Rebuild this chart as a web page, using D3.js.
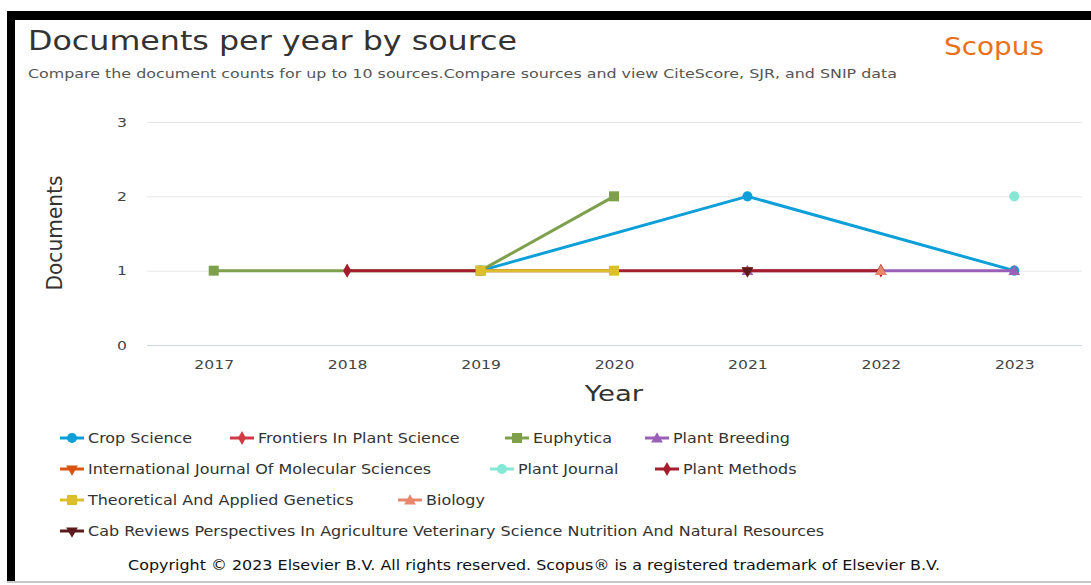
<!DOCTYPE html>
<html><head><meta charset="utf-8">
<script src="https://cdn.jsdelivr.net/npm/d3@7/dist/d3.min.js"></script>
<style>html,body{margin:0;padding:0;background:#fff;}svg{display:block;}</style>
</head><body>
<script>
const years = ["2017","2018","2019","2020","2021","2022","2023"];
const yTicks = [0,1,2,3];
const seriesNames = ["Crop Science","Frontiers In Plant Science","Euphytica","Plant Breeding","International Journal Of Molecular Sciences","Plant Journal","Plant Methods","Theoretical And Applied Genetics","Biology","Cab Reviews Perspectives In Agriculture Veterinary Science Nutrition And Natural Resources"];
const cropScience   = [null,null,1,null,2,null,1];
const frontiers     = [null,1,null,null,null,null,null];
const euphytica     = [1,null,1,2,null,null,null];
const plantBreeding = [null,null,null,null,1,1,1];
const ijms          = [null,null,null,null,1,null,null];
const plantJournal  = [null,null,null,null,null,null,2];
const plantMethods  = [null,1,null,null,null,1,null];
const tag           = [null,null,1,1,null,null,null];
const biology       = [null,null,null,null,null,1,null];
const cabReviews    = [null,null,null,null,1,null,null];
const seriesValues = [cropScience,frontiers,euphytica,plantBreeding,ijms,plantJournal,plantMethods,tag,biology,cabReviews];
const colors = ["#0d9fd8","#cf3a47","#7ea04d","#9a5fb6","#d8530f","#85e8d4","#a31d2c","#dcbf2a","#e8866b","#5d1a1d"];
const symbols = ["circle","diamond","square","triangle","triangleDown","circle","diamond","square","triangle","triangleDown"];

const W=1091,H=585;
const svg=d3.select("body").append("svg").attr("width",W).attr("height",H);
svg.append("rect").attr("x",7).attr("y",11).attr("width",W-7).attr("height",9).attr("fill","#000");
svg.append("rect").attr("x",7).attr("y",11).attr("width",8).attr("height",570).attr("fill","#000");
svg.append("rect").attr("x",7).attr("y",581).attr("width",W-7).attr("height",2).attr("fill","#c8c8c8");

const font="DejaVu Sans, sans-serif";
function stretch(sel,k){
  sel.each(function(){
    const len=this.getComputedTextLength();
    d3.select(this).attr("textLength",len*k).attr("lengthAdjust","spacingAndGlyphs");
  });
}
svg.append("text").attr("x",28).attr("y",50).attr("font-family",font).attr("font-size",26)
  .attr("fill","#333").attr("textLength",489).attr("lengthAdjust","spacingAndGlyphs").text("Documents per year by source");
svg.append("text").attr("x",944).attr("y",55).attr("font-family",font).attr("font-size",25)
  .attr("fill","#e9711c").attr("textLength",100).attr("lengthAdjust","spacingAndGlyphs").text("Scopus");
svg.append("text").attr("x",28).attr("y",78).attr("font-family",font).attr("font-size",13)
  .attr("fill","#555").attr("textLength",869).attr("lengthAdjust","spacingAndGlyphs")
  .text("Compare the document counts for up to 10 sources.Compare sources and view CiteScore, SJR, and SNIP data");

const x=d3.scalePoint().domain(years).range([147,1081]).padding(0.5);
const y=d3.scaleLinear().domain([0,3]).range([345,122]);

const gy=svg.append("g").attr("transform","translate(147,0)")
  .call(d3.axisLeft(y).tickValues(yTicks).tickSize(-935).tickFormat(d3.format("d")));
gy.select(".domain").remove();
gy.selectAll(".tick line").attr("stroke",d=>d===0?"#ccd6eb":"#e6e6e6");
gy.selectAll(".tick text").attr("x",-20).attr("font-family",font).attr("font-size",13).attr("fill","#444");
stretch(gy.selectAll(".tick text"),1.2);

const gx=svg.append("g").attr("transform","translate(0,345)")
  .call(d3.axisBottom(x).tickSize(0));
gx.select(".domain").remove();
gx.selectAll(".tick text").attr("dy",0).attr("y",24).attr("font-family",font).attr("font-size",13).attr("fill","#444");
stretch(gx.selectAll(".tick text"),1.2);

const yl=svg.append("text").attr("x",614).attr("y",401).attr("text-anchor","middle").attr("font-family",font)
  .attr("font-size",22).attr("fill","#333").text("Year");
stretch(yl,1.25);
svg.append("text").attr("transform","translate(62,233) rotate(-90)").attr("text-anchor","middle")
  .attr("font-family",font).attr("font-size",22).attr("fill","#333")
  .attr("textLength",115).attr("lengthAdjust","spacingAndGlyphs").text("Documents");

function symPath(kind,size){
  const m={circle:d3.symbolCircle,diamond:d3.symbolDiamond,square:d3.symbolSquare,triangle:d3.symbolTriangle,triangleDown:d3.symbolTriangle};
  return d3.symbol().type(m[kind]).size(size)();
}
function addMarker(g,kind,color,cx,cy){
  const sizes={circle:80,diamond:55,square:100,triangle:60,triangleDown:60};
  const p=g.append("path").attr("d",symPath(kind,sizes[kind])).attr("fill",color);
  if(kind==="triangleDown") p.attr("transform",`translate(${cx},${cy}) rotate(180)`);
  else if(kind==="triangle") p.attr("transform",`translate(${cx},${cy+1})`);
  else p.attr("transform",`translate(${cx},${cy})`);
}

const line=d3.line().x(d=>x(d.year)).y(d=>y(d.v));
const plot=svg.append("g");
seriesValues.forEach((vals,i)=>{
  const pts=years.map((yr,j)=>({year:yr,v:vals[j]})).filter(d=>d.v!==null);
  const g=plot.append("g");
  g.append("path").datum(pts).attr("d",line).attr("fill","none").attr("stroke",colors[i])
    .attr("stroke-width",3).attr("stroke-linejoin","round");
  pts.forEach(d=>addMarker(g,symbols[i],colors[i],x(d.year),y(d.v)));
});

const legendItems=[
  {i:0,x:60,y:438},{i:1,x:230,y:438},{i:2,x:505,y:438},{i:3,x:645,y:438},
  {i:4,x:60,y:469},{i:5,x:490,y:469},{i:6,x:655,y:469},
  {i:7,x:60,y:500},{i:8,x:398,y:500},
  {i:9,x:60,y:531}
];
const lg=svg.append("g");
legendItems.forEach(it=>{
  const g=lg.append("g");
  g.append("line").attr("x1",it.x).attr("x2",it.x+24).attr("y1",it.y).attr("y2",it.y)
    .attr("stroke",colors[it.i]).attr("stroke-width",3);
  addMarker(g,symbols[it.i],colors[it.i],it.x+12,it.y);
  const t=g.append("text").attr("x",it.x+28).attr("y",it.y+5).attr("font-family",font).attr("font-size",14)
    .attr("fill","#333").text(seriesNames[it.i]);
  stretch(t,1.14);
});

svg.append("text").attr("x",534).attr("y",570).attr("text-anchor","middle").attr("font-family",font)
  .attr("font-size",13.5).attr("fill","#111").attr("textLength",812).attr("lengthAdjust","spacingAndGlyphs")
  .text("Copyright © 2023 Elsevier B.V. All rights reserved. Scopus® is a registered trademark of Elsevier B.V.");
</script>
</body></html>
